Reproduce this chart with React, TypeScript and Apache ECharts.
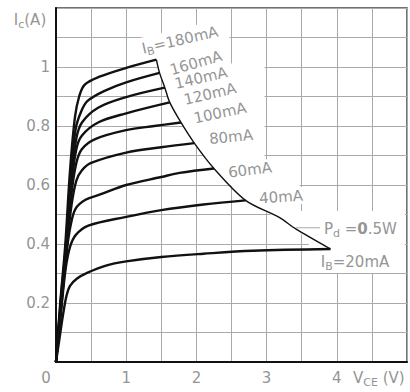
import React, { useEffect, useRef } from 'react';
import * as echarts from 'echarts';

// ---- data (V_CE in volts, I_C in amperes) ----
const vceTickLabels = [0, 1, 2, 3, 4];
const icTickLabels = [0.2, 0.4, 0.6, 0.8, 1];

const ib180 = [[0, 0], [0.06, 0.2], [0.13, 0.39], [0.2, 0.65], [0.27, 0.83], [0.33, 0.9], [0.41, 0.94], [0.62, 0.967], [1.0, 0.997], [1.43, 1.025]];
const ib160 = [[0, 0], [0.065, 0.2], [0.135, 0.38], [0.21, 0.63], [0.28, 0.79], [0.36, 0.85], [0.45, 0.885], [0.7, 0.92], [1.0, 0.948], [1.475, 0.98]];
const ib140 = [[0, 0], [0.07, 0.2], [0.14, 0.38], [0.22, 0.62], [0.29, 0.758], [0.37, 0.812], [0.6, 0.862], [1.0, 0.898], [1.55, 0.93]];
const ib120 = [[0, 0], [0.07, 0.2], [0.145, 0.38], [0.22, 0.6], [0.29, 0.722], [0.37, 0.768], [0.6, 0.812], [1.0, 0.843], [1.62, 0.88]];
const ib100 = [[0, 0], [0.075, 0.2], [0.15, 0.38], [0.22, 0.57], [0.29, 0.675], [0.37, 0.722], [0.55, 0.755], [1.0, 0.786], [1.4, 0.8], [1.78, 0.812]];
const ib80 = [[0, 0], [0.075, 0.2], [0.15, 0.38], [0.22, 0.53], [0.29, 0.615], [0.37, 0.65], [0.5, 0.675], [1.0, 0.71], [1.5, 0.728], [1.97, 0.742]];
const ib60 = [[0, 0], [0.08, 0.2], [0.15, 0.37], [0.21, 0.465], [0.28, 0.52], [0.42, 0.55], [0.62, 0.567], [1.0, 0.6], [1.5, 0.627], [1.76, 0.641], [2.25, 0.656]];
const ib40 = [[0, 0], [0.08, 0.19], [0.14, 0.32], [0.2, 0.39], [0.28, 0.43], [0.46, 0.462], [1.0, 0.492], [1.5, 0.515], [2.1, 0.534], [2.7, 0.548]];
const ib20 = [[0, 0], [0.05, 0.08], [0.1, 0.16], [0.15, 0.225], [0.2, 0.258], [0.3, 0.283], [0.45, 0.303], [0.7, 0.326], [1.0, 0.341], [1.5, 0.356], [2.1, 0.367], [2.8, 0.377], [3.91, 0.383]];
const ibCurves = [ib180, ib160, ib140, ib120, ib100, ib80, ib60, ib40, ib20];

const pdBoundary = [[1.43, 1.025], [1.475, 0.98], [1.55, 0.93], [1.62, 0.88], [1.78, 0.812], [1.97, 0.742], [2.25, 0.656], [2.7, 0.548], [3.18, 0.49], [3.41, 0.452], [3.91, 0.383]];
const pdLeader = [[3.42, 0.455], [3.76, 0.455]];

// blank (label) area outline, in data units
const maskOutline = [[1.43, 1.025], [1.5, 1.06], [2.0, 1.09], [2.47, 1.125], [2.47, 1.012], [2.97, 1.012], [2.97, 0.662], [3.47, 0.662], [3.47, 0.512], [4.97, 0.512], [4.97, 0.312], [3.6, 0.312], [3.6, 0.41], [3.41, 0.452], [2.7, 0.548], [2.25, 0.656], [1.97, 0.742], [1.78, 0.812], [1.62, 0.88], [1.55, 0.93], [1.475, 0.98]];

const curveLabelTexts = ['{n|I}{s|B}{n|=180mA}', '{n|160mA}', '{n|140mA}', '{n|120mA}', '{n|100mA}', '{n|80mA}', '{n|60mA}', '{n|40mA}', '{n|I}{s|B}{n|=20mA}'];
const FONT = 'DejaVu Sans';
const GRAY = '#959595';

export default function App() {
  const ref = useRef<HTMLDivElement>(null);
  useEffect(() => {
    const chart = echarts.init(ref.current!, null, { renderer: 'svg' });
    const rich = {
      n: { fontSize: 15, fontFamily: FONT, color: GRAY },
      s: { fontSize: 11, fontFamily: FONT, color: GRAY, padding: [9, 0, 0, 0] },
      b: { fontSize: 15, fontFamily: FONT, color: '#000', fontWeight: 'bold' },
      z: { fontSize: 15, fontFamily: FONT, color: GRAY, padding: [0, 20, 0, 0] },
    };
    const series: any[] = ibCurves.map((d) => ({
      type: 'line', data: d, symbol: 'none', smooth: 0.35, silent: true, z: 3,
      lineStyle: { color: '#111', width: 2.4 },
    }));
    series.push({ type: 'line', data: pdBoundary, symbol: 'none', smooth: 0.3, silent: true, z: 3, lineStyle: { color: '#111', width: 1.4 } });
    series.push({ type: 'line', data: pdLeader, symbol: 'none', silent: true, z: 3, lineStyle: { color: '#aaa', width: 1 } });

    chart.setOption({
      animation: false,
      grid: { left: 56, right: 2, top: 8, bottom: 30, show: true, borderColor: '#444', borderWidth: 1.5, backgroundColor: 'transparent' },
      xAxis: {
        type: 'value', min: 0, max: 5, interval: 0.5,
        axisLine: { show: true, onZero: false, lineStyle: { color: '#111', width: 2 } },
        axisTick: { show: false },
        splitLine: { show: true, lineStyle: { color: '#aaa', width: 1 } },
        axisLabel: {
          margin: 8, fontSize: 15, fontFamily: FONT, color: GRAY, showMinLabel: true, showMaxLabel: true, rich,
          formatter: (v: number) => {
            const r = Math.round(v * 10) / 10;
            if (r === 0) return '{z|0}';
            return vceTickLabels.includes(r) ? String(r) : '';
          },
        },
      },
      yAxis: {
        type: 'value', min: 0, max: 1.2, interval: 0.1,
        axisLine: { show: true, onZero: false, lineStyle: { color: '#111', width: 2 } },
        axisTick: { show: false },
        splitLine: { show: true, lineStyle: { color: '#aaa', width: 1 } },
        axisLabel: {
          margin: 6, fontSize: 15, fontFamily: FONT, color: GRAY,
          formatter: (v: number) => {
            const r = Math.round(v * 10) / 10;
            return icTickLabels.includes(r) ? String(r) : '';
          },
        },
      },
      series,
    });

    const toPx = (p: number[]) => chart.convertToPixel({ gridIndex: 0 }, p) as number[];
    const labelPos: [number, number, number][] = [
      [180, 40, 13], [196, 63, 16], [201, 78, 13], [210, 94, 13.5], [220, 113, 12],
      [231, 137, 5.5], [250, 170, 7.5], [281, 197, 4], [355, 262, 0],
    ];
    const graphics: any[] = [
      { type: 'polygon', z: 1, silent: true, shape: { points: maskOutline.map(toPx) }, style: { fill: '#fff' } },
    ];
    curveLabelTexts.forEach((t, i) => {
      const [x, y, r] = labelPos[i];
      graphics.push({
        type: 'text', x, y, rotation: (r * Math.PI) / 180, z: 1, silent: true,
        style: { text: t, rich, fontSize: 15, fontFamily: FONT, fill: GRAY, align: 'center', verticalAlign: 'middle', backgroundColor: '#fff', padding: [1, 2] },
      });
    });
    graphics.push({
      type: 'text', x: 322, y: 229, z: 1, silent: true,
      style: { text: '{n|P}{s|d}{n| =}{b|0}{n|.5W}', rich, fontSize: 15, fontFamily: FONT, fill: GRAY, align: 'left', verticalAlign: 'middle', backgroundColor: '#fff', padding: [1, 2] },
    });
    graphics.push({
      type: 'text', x: 30, y: 20, z: 1, silent: true,
      style: { text: '{n|I}{s|c}{n|(A)}', rich, fontSize: 15, fontFamily: FONT, fill: GRAY, align: 'center', verticalAlign: 'middle' },
    });
    graphics.push({
      type: 'text', x: 353, y: 378, z: 1, silent: true,
      style: { text: '{n|V}{s|CE}{n| (V)}', rich, fontSize: 15, fontFamily: FONT, fill: GRAY, align: 'left', verticalAlign: 'middle' },
    });
    chart.setOption({ graphic: graphics });

    return () => chart.dispose();
  }, []);
  return <div ref={ref} style={{ position: 'fixed', left: 0, top: 0, width: 410, height: 392, background: '#fff' }} />;
}
